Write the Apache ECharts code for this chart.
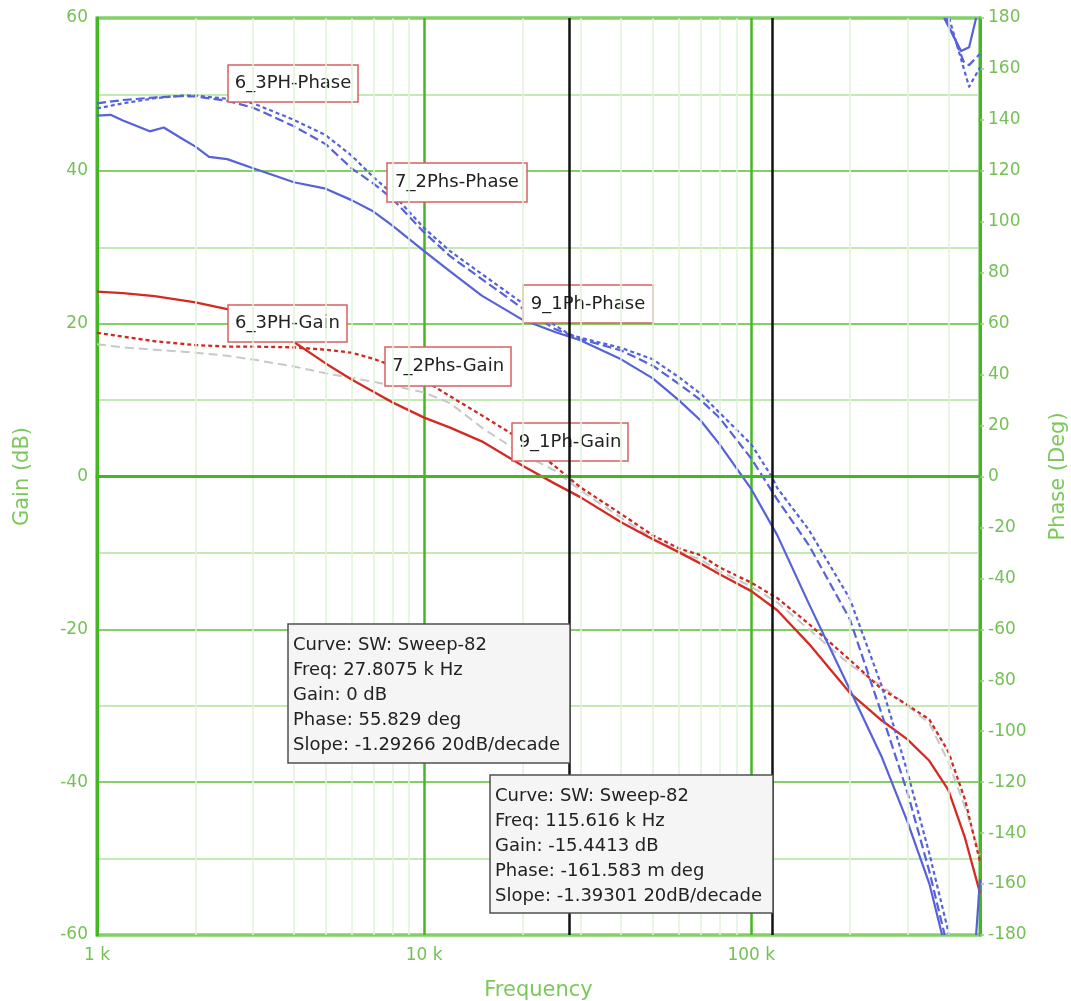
<!DOCTYPE html>
<html><head><meta charset="utf-8">
<script src="https://cdn.jsdelivr.net/npm/echarts@6/dist/echarts.min.js"></script>
<style>html,body{margin:0;padding:0;background:#fff}#c{width:1071px;height:1001px}</style>
</head><body><div id="c"></div>
<script>
// ---------- data ----------
const FREQ = [1000, 1200, 1500, 2000, 2500, 3000, 4000, 5000, 6000, 7000, 8000, 10000, 12000, 15000, 20000, 25000, 30000, 40000, 50000, 60000, 70000, 80000, 100000, 120000, 150000, 200000, 250000, 300000, 350000, 400000, 450000, 500000];
const GAIN_6_3PH = [24.2, 24.0, 23.6, 22.8, 21.9, 20.8, 17.6, 14.8, 12.7, 11.1, 9.7, 7.7, 6.4, 4.6, 1.4, -0.9, -2.7, -6.0, -8.2, -9.9, -11.4, -12.8, -15.0, -17.5, -21.9, -28.3, -31.9, -34.4, -37.2, -41.0, -47.3, -54.5];
const GAIN_7_2PHS = [18.8, 18.3, 17.7, 17.2, 17.0, 17.0, 16.9, 16.6, 16.2, 15.4, 14.5, 12.6, 10.5, 8.0, 4.7, 1.4, -1.4, -4.9, -7.7, -9.4, -10.3, -11.9, -13.9, -15.9, -19.3, -24.0, -27.8, -29.9, -31.8, -36.0, -42.3, -50.4];
const GAIN_9_1PH = [17.3, 16.9, 16.6, 16.2, 15.8, 15.3, 14.4, 13.5, 12.9, 12.4, 11.9, 11.0, 9.6, 6.4, 2.9, 0.8, -1.8, -5.4, -8.1, -9.8, -10.9, -12.4, -14.4, -16.5, -20.0, -24.6, -27.4, -30.0, -32.3, -37.3, -43.3, -49.5];

// phase curves are shown wrapped into [-180, 180]; null marks the wrap break
const PH6_FREQ = [1000, 1100, 1200, 1450, 1600, 1800, 2000, 2200, 2500, 3000, 4000, 5000, 6000, 7000, 8000, 10000, 12000, 15000, 20000, 25000, 30000, 40000, 50000, 60000, 70000, 80000, 100000, 120000, 150000, 200000, 250000, 300000, 350000, 383000, 383000, 388500, 437700, 463100, 486500, 486500, 486500, 500000];
const PHASE_6_3PH = [141.7, 142.0, 139.8, 135.5, 137.0, 133.0, 129.5, 125.5, 124.6, 121.0, 115.5, 113.0, 108.5, 104.0, 98.5, 88.5, 80.5, 71.0, 61.5, 56.8, 53.5, 46.0, 38.5, 30.0, 22.0, 12.6, -5.0, -23.0, -50.0, -83.6, -109.9, -135.5, -159.8, -180, null, 180, 167, 168.5, 180, null, -180, -158];
const PH7_FREQ = [1000, 1200, 1500, 1800, 2000, 2500, 3000, 4000, 5000, 6000, 7000, 8000, 10000, 12000, 15000, 20000, 25000, 30000, 40000, 50000, 60000, 70000, 80000, 100000, 120000, 150000, 200000, 250000, 300000, 350000, 390000, 390000, 394000, 447100, 463100, 500000];
const PHASE_7_2PHS = [146.5, 147.8, 148.8, 149.3, 149.2, 147.5, 144.8, 137.5, 130.5, 121.0, 115.0, 109.0, 95.8, 86.5, 77.5, 66.0, 58.0, 54.0, 49.5, 43.5, 36.4, 30.0, 23.0, 7.0, -9.0, -27.0, -56.0, -93.0, -124.0, -155.0, -180, null, 180, 162.5, 161.5, 166];
const PH9_FREQ = [1000, 1200, 1500, 1800, 2000, 2500, 3000, 4000, 5000, 6000, 7000, 8000, 10000, 12000, 15000, 20000, 25000, 27807.5, 30000, 40000, 50000, 60000, 70000, 80000, 100000, 115616, 120000, 150000, 200000, 250000, 300000, 350000, 402400, 402400, 402400, 463100, 500000];
const PHASE_9_1PH = [144.5, 146.5, 148.5, 149.5, 149.5, 148.3, 146.5, 140.0, 134.0, 126.0, 117.5, 111.0, 97.5, 88.5, 79.5, 68.0, 59.5, 55.8, 54.5, 50.5, 46.0, 39.0, 32.5, 25.0, 12.6, -0.2, -4.5, -21.0, -48.0, -82.0, -116.0, -148.0, -180, null, 180, 153, 160.6];

const X_TICK_VALUES = [1000, 10000, 100000];
const X_TICK_LABELS = ['1 k', '10 k', '100 k'];
const MINOR_FREQS = [2000, 3000, 4000, 5000, 6000, 7000, 8000, 9000, 20000, 30000, 40000, 50000, 60000, 70000, 80000, 90000, 200000, 300000, 400000];
const CURSOR_FREQS = [27807.5, 115616];

const LABEL_BOXES = [
  {text: '6_3PH-Phase', x: 228, y: 65, w: 130, h: 37},
  {text: '7_2Phs-Phase', x: 387, y: 163, w: 140, h: 39},
  {text: '9_1Ph-Phase', x: 523, y: 285, w: 130, h: 38},
  {text: '6_3PH-Gain', x: 228, y: 305, w: 119, h: 37},
  {text: '7_2Phs-Gain', x: 385, y: 347, w: 126, h: 39},
  {text: '9_1Ph-Gain', x: 512, y: 423, w: 116, h: 38}
];
const CURSOR_BOXES = [
  {x: 288, y: 624, w: 282, h: 139, lines: ['Curve: SW: Sweep-82', 'Freq: 27.8075 k Hz', 'Gain: 0 dB', 'Phase: 55.829 deg', 'Slope: -1.29266 20dB/decade']},
  {x: 490, y: 775, w: 283, h: 138, lines: ['Curve: SW: Sweep-82', 'Freq: 115.616 k Hz', 'Gain: -15.4413 dB', 'Phase: -161.583 m deg', 'Slope: -1.39301 20dB/decade']}
];

// ---------- chart ----------
const FONT = 'DejaVu Sans';
const GREEN = '#44b822';
const LABEL_GREEN = '#74c155';
const RED = '#d42a22';
const BLUE = '#5562da';

function pairs(f, v) { return f.map((x, i) => [x, v[i]]); }

function curve(name, f, v, yIdx, color, type, width) {
  return {
    name, type: 'line', xAxisIndex: 0, yAxisIndex: yIdx,
    data: pairs(f, v), showSymbol: false, symbol: 'none',
    smooth: false, connectNulls: false, clip: true,
    lineStyle: {color, type, width, join: 'round'}, z: 4, silent: true
  };
}

const chart = echarts.init(document.getElementById('c'), null, {renderer: 'canvas'});

const graphics = [];
LABEL_BOXES.forEach(b => {
  graphics.push({type: 'rect', z: 5, silent: true,
    shape: {x: b.x, y: b.y, width: b.w, height: b.h},
    style: {fill: '#ffffff', stroke: '#d66060', lineWidth: 1.5}});
  graphics.push({type: 'text', z: 5, silent: true,
    x: b.x + b.w / 2, y: b.y + b.h / 2,
    style: {text: b.text, font: '18px "' + FONT + '"', fill: '#222', align: 'center', verticalAlign: 'middle'}});
});
CURSOR_BOXES.forEach(b => {
  graphics.push({type: 'rect', z: 10, silent: true,
    shape: {x: b.x, y: b.y, width: b.w, height: b.h},
    style: {fill: '#f5f5f5', stroke: '#505050', lineWidth: 1.5}});
  graphics.push({type: 'text', z: 10, silent: true,
    x: b.x + 5, y: b.y + 8.5,
    style: {text: b.lines.join('\n'), font: '18px "' + FONT + '"', fill: '#222', lineHeight: 25, align: 'left', verticalAlign: 'top'}});
});

const option = {
  animation: false,
  backgroundColor: '#ffffff',
  textStyle: {fontFamily: FONT},
  grid: {left: 97, right: 91, top: 18, bottom: 66, show: true, borderColor: GREEN, borderWidth: 3,
    backgroundColor: '#ffffff', containLabel: false, outerBoundsMode: 'none'},
  xAxis: {
    type: 'log', logBase: 10, min: 1000, max: 500000, z: 2,
    name: 'Frequency', nameLocation: 'middle', nameGap: 45,
    nameTextStyle: {color: '#7ac95a', fontSize: 21, fontFamily: FONT},
    axisLine: {show: true, lineStyle: {color: GREEN, width: 3}},
    axisTick: {show: false},
    axisLabel: {
      color: LABEL_GREEN, fontSize: 17, fontFamily: FONT, margin: 12,
      formatter: function (v) {
        for (let i = 0; i < X_TICK_VALUES.length; i++) {
          if (Math.abs(v - X_TICK_VALUES[i]) / X_TICK_VALUES[i] < 1e-6) return X_TICK_LABELS[i];
        }
        return '';
      }
    },
    splitLine: {show: true, lineStyle: {color: GREEN, width: 2.5}}
  },
  yAxis: [{
    type: 'value', min: -60, max: 60, interval: 20, position: 'left', z: 2,
    name: 'Gain (dB)', nameLocation: 'middle', nameGap: 64, nameRotate: 90,
    nameTextStyle: {color: '#7ac95a', fontSize: 21, fontFamily: FONT},
    axisLine: {show: true, lineStyle: {color: GREEN, width: 3}},
    axisTick: {show: false},
    axisLabel: {color: LABEL_GREEN, fontSize: 17, fontFamily: FONT, margin: 9},
    splitLine: {show: true, lineStyle: {color: '#84d064', width: 2}},
    minorTick: {show: false, splitNumber: 2},
    minorSplitLine: {show: true, lineStyle: {color: '#b0e29c', width: 1.5}}
  }, {
    type: 'value', min: -180, max: 180, interval: 20, position: 'right', z: 2,
    name: 'Phase (Deg)', nameLocation: 'middle', nameGap: 68, nameRotate: 90,
    nameTextStyle: {color: '#7ac95a', fontSize: 21, fontFamily: FONT},
    axisLine: {show: true, lineStyle: {color: GREEN, width: 3}},
    axisTick: {show: true, inside: false, length: 4, lineStyle: {color: '#8fd470', width: 1.5}},
    axisLabel: {color: LABEL_GREEN, fontSize: 17, fontFamily: FONT, margin: 8},
    splitLine: {show: false}
  }],
  series: [
    {
      name: 'minor-grid', type: 'line', data: [], z: 1, silent: true,
      markLine: {silent: true, symbol: 'none', label: {show: false}, animation: false,
        lineStyle: {color: '#e2f2da', width: 1.5, type: 'solid'},
        data: MINOR_FREQS.map(f => ({xAxis: f}))}
    },
    {
      name: 'zero-line', type: 'line', data: [], z: 3, silent: true,
      markLine: {silent: true, symbol: 'none', label: {show: false}, animation: false,
        lineStyle: {color: GREEN, width: 3, type: 'solid'},
        data: [{yAxis: 0}]}
    },
    curve('9_1Ph-Gain', FREQ, GAIN_9_1PH, 0, '#c8c8c8', [9, 5], 2),
    curve('7_2Phs-Gain', FREQ, GAIN_7_2PHS, 0, '#cf2a22', [4, 3], 2.3),
    curve('6_3PH-Gain', FREQ, GAIN_6_3PH, 0, RED, 'solid', 2.3),
    curve('9_1Ph-Phase', PH9_FREQ, PHASE_9_1PH, 1, BLUE, [4, 3], 2.2),
    curve('7_2Phs-Phase', PH7_FREQ, PHASE_7_2PHS, 1, BLUE, [9, 4], 2.2),
    curve('6_3PH-Phase', PH6_FREQ, PHASE_6_3PH, 1, BLUE, 'solid', 2.2),
    {
      name: 'cursors', type: 'line', data: [], z: 6, silent: true,
      markLine: {silent: true, symbol: 'none', label: {show: false}, animation: false,
        lineStyle: {color: '#111111', width: 2.5, type: 'solid'},
        data: CURSOR_FREQS.map(f => ({xAxis: f}))}
    }
  ],
  graphic: graphics
};
chart.setOption(option);
</script>
</body></html>
